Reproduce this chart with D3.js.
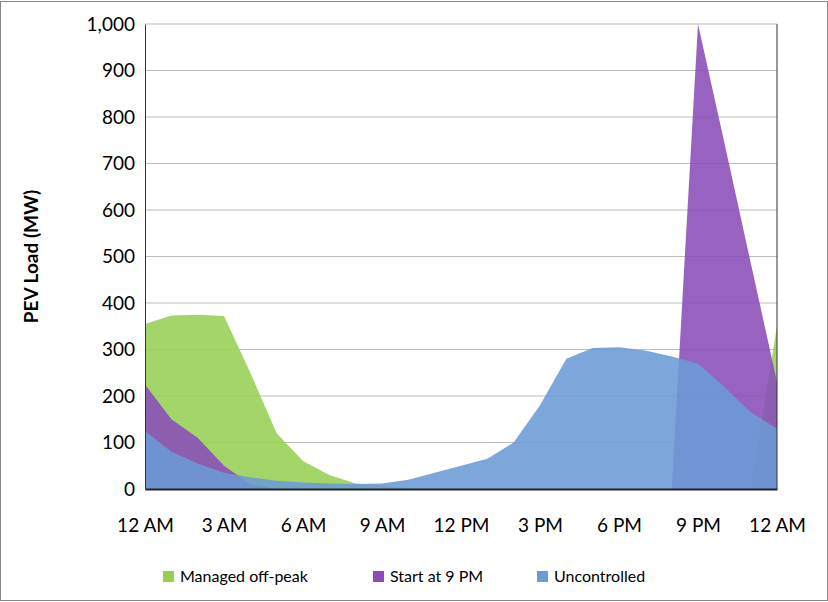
<!DOCTYPE html>
<html><head><meta charset="utf-8">
<script src="https://cdn.jsdelivr.net/npm/d3@7"></script>
<style>body{margin:0;background:#fff}</style>
</head><body><div id="chart"></div>
<script>
const hours = d3.range(0, 25);
const managed = [355,373,375,372,250,120,60,30,12,8,0,0,0,0,0,0,0,0,0,0,0,0,0,0,350];
const start9 = [225,150,110,50,10,0,0,0,0,0,0,0,0,0,0,0,0,0,0,0,0,1000,745,487,230];
const uncontrolled = [125,80,55,35,25,18,14,12,11,12,20,35,50,65,100,180,280,303,305,298,285,270,220,165,130];
const tickLabels = ["12 AM","3 AM","6 AM","9 AM","12 PM","3 PM","6 PM","9 PM","12 AM"];
const series = [
  {name: "Managed off-peak", values: managed, color: "#97cf54"},
  {name: "Start at 9 PM", values: start9, color: "#8a4cb8"},
  {name: "Uncontrolled", values: uncontrolled, color: "#6b9bd6"}
];

const width = 828, height = 602;
const margin = {left: 145, right: 51, top: 24, bottom: 113};
const svg = d3.select("#chart").append("svg").attr("width", width).attr("height", height);
svg.append("rect").attr("x", 0.5).attr("y", 1.5).attr("width", width - 1).attr("height", height - 3)
  .attr("fill", "none").attr("stroke", "#888");

const x = d3.scaleLinear().domain([0, 24]).range([margin.left, width - margin.right]);
const y = d3.scaleLinear().domain([0, 1000]).range([height - margin.bottom, margin.top]);

svg.append("g").selectAll("line").data(d3.range(100, 1001, 100)).join("line")
  .attr("x1", x(0)).attr("x2", x(24)).attr("y1", d => y(d)).attr("y2", d => y(d))
  .attr("stroke", "#bdbdbd");

const area = vals => d3.area().x((d, i) => x(hours[i])).y0(y(0)).y1(d => y(d))(vals);
svg.append("g").selectAll("path").data(series).join("path")
  .attr("d", d => area(d.values)).attr("fill", d => d.color).attr("fill-opacity", 0.88);

const font = "Lato, 'Liberation Sans', sans-serif";
const yAxis = svg.append("g").attr("transform", `translate(${x(0)},0)`)
  .call(d3.axisLeft(y).tickValues(d3.range(0, 1001, 100)).tickSize(0).tickPadding(10).tickFormat(d3.format(",")));
yAxis.select(".domain").attr("stroke", "#333");
yAxis.selectAll("text").attr("font-family", font).attr("font-size", 19).attr("fill", "#000");

const xAxis = svg.append("g").attr("transform", `translate(0,${y(0)})`)
  .call(d3.axisBottom(x).tickValues(d3.range(0, 25, 3)).tickSize(0).tickPadding(30)
    .tickFormat((d, i) => tickLabels[i]));
xAxis.select(".domain").attr("stroke", "#222").attr("stroke-width", 2);
xAxis.selectAll("text").attr("font-family", font).attr("font-size", 19).attr("fill", "#000");

svg.append("line").attr("x1", x(24)).attr("x2", x(24)).attr("y1", y(1000)).attr("y2", y(0)).attr("stroke", "#333");

svg.append("text").attr("transform", `translate(38,${(y(0) + y(1000)) / 2}) rotate(-90)`)
  .attr("text-anchor", "middle").attr("font-family", font).attr("font-weight", "bold")
  .attr("font-size", 19).text("PEV Load (MW)");

const legendX = [163, 373, 537];
const lg = svg.append("g").selectAll("g").data(series).join("g")
  .attr("transform", (d, i) => `translate(${legendX[i]},577)`);
lg.append("rect").attr("x", 0).attr("y", -6).attr("width", 11).attr("height", 11).attr("fill", d => d.color);
lg.append("text").attr("x", 17).attr("y", 5).attr("font-family", font).attr("font-size", 16).text(d => d.name);
</script></body></html>
